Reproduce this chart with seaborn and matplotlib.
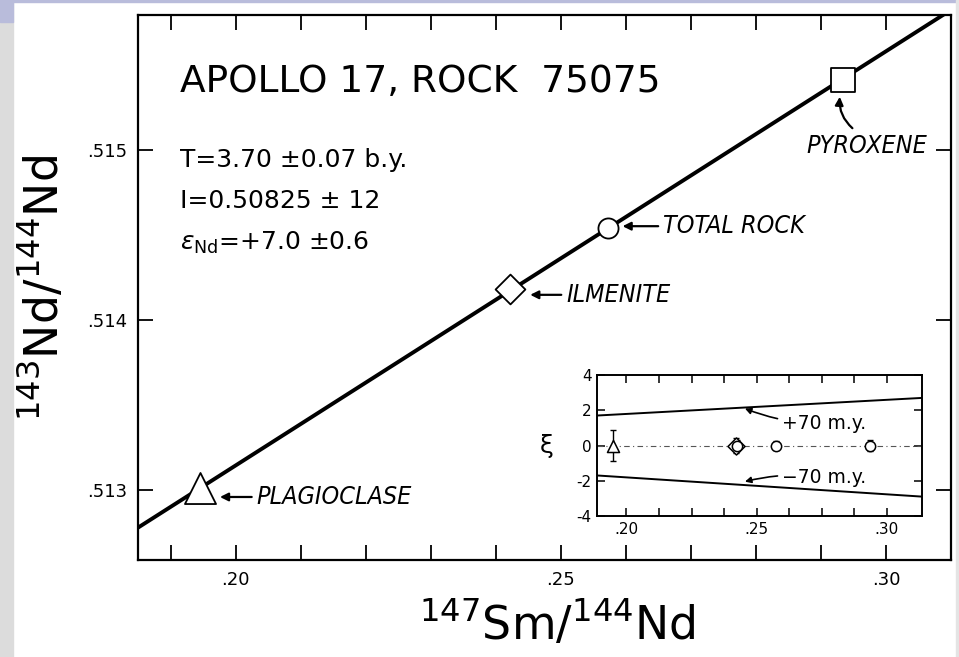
import matplotlib
matplotlib.use('Agg')
import matplotlib.pyplot as plt
import matplotlib.patches as mpatches
from matplotlib.ticker import MultipleLocator, FixedLocator, FuncFormatter
import seaborn as sns
import pandas as pd

# isochron
iso_x = [0.185, 0.31]
iso_y = [0.51278, 0.51582]

minerals = ['PLAGIOCLASE', 'ILMENITE', 'TOTAL ROCK', 'PYROXENE']
sm_nd = [0.1945, 0.2422, 0.2572, 0.2934]
nd_nd = [0.51301, 0.51418, 0.51454, 0.51541]
marker_shapes = ['^', 'D', 'o', 's']
marker_areas = [500, 230, 210, 275]

# inset: deviation xi with +-70 m.y. reference lines
dev_x = [0.195, 0.2420, 0.2425, 0.2573, 0.2936]
dev_y = [0.0, 0.0, 0.0, 0.0, 0.0]
dev_err = [0.9, 0.4, 0.3, 0.25, 0.3]
dev_marker = ['^', 'D', 'o', 'o', 'o']
plus70_x = [0.1887, 0.3135]
plus70_y = [1.7, 2.7]
minus70_x = [0.1887, 0.3135]
minus70_y = [-1.7, -2.9]

sns.set_style('ticks')
plt.rcParams['font.family'] = ['DejaVu Sans']
plt.rcParams['mathtext.fontset'] = 'dejavusans'
plt.rcParams['axes.unicode_minus'] = False
for k in ['text.color', 'axes.labelcolor', 'xtick.color', 'ytick.color', 'axes.edgecolor']:
    plt.rcParams[k] = 'black'

fig = plt.figure(figsize=(9.59, 6.57), dpi=100)
fig.patch.set_facecolor('white')

# scanned page margins
fig.patches.append(mpatches.Rectangle((0, 0), 13 / 959, 1, transform=fig.transFigure,
                                      color='#dcdcdc', zorder=0))
fig.patches.append(mpatches.Rectangle((0, 1 - 22 / 657), 13 / 959, 22 / 657, transform=fig.transFigure,
                                      color='#b9bcdb', zorder=0))
fig.patches.append(mpatches.Rectangle((0, 1 - 2 / 657), 1, 2 / 657, transform=fig.transFigure,
                                      color='#b9bcdb', zorder=0))
fig.patches.append(mpatches.Rectangle((956 / 959, 0), 3 / 959, 1, transform=fig.transFigure,
                                      color='#e4e4e4', zorder=0))

ax = fig.add_axes([138 / 959, 97 / 657, 813 / 959, 545 / 657])
ax.set_facecolor('white')

sns.lineplot(x=iso_x, y=iso_y, ax=ax, color='black', lw=2.8, zorder=2)

df = pd.DataFrame({'x': sm_nd, 'y': nd_nd, 'mineral': minerals})
for i, row in df.iterrows():
    sns.scatterplot(x=[row.x], y=[row.y], ax=ax, marker=marker_shapes[i], s=marker_areas[i],
                    color='white', edgecolor='black', linewidth=1.3, zorder=3)

ax.set_xlim(0.185, 0.31)
ax.set_ylim(0.51259, 0.51579)
ax.xaxis.set_major_locator(FixedLocator([0.20, 0.25, 0.30]))
ax.xaxis.set_minor_locator(MultipleLocator(0.01))
ax.yaxis.set_major_locator(FixedLocator([0.513, 0.514, 0.515]))
ax.xaxis.set_major_formatter(FuncFormatter(lambda v, p: ('%.2f' % v)[1:]))
ax.yaxis.set_major_formatter(FuncFormatter(lambda v, p: ('%.3f' % v)[1:]))
ax.tick_params(which='both', direction='in', length=11, width=1.3, top=True, right=True,
               labelsize=13, pad=8)
for s in ax.spines.values():
    s.set_linewidth(1.6)
    s.set_visible(True)

ax.set_xlabel(r'$^{147}$Sm/$^{144}$Nd', fontsize=33)
ax.set_ylabel(r'$^{143}$Nd/$^{144}$Nd', fontsize=33)
ax.xaxis.set_label_coords(0.516, -0.12)
ax.xaxis.label.set_va('center')
ax.yaxis.set_label_coords(-0.117, 0.5)
ax.yaxis.label.set_va('center')

ax.text(0.052, 0.877, 'APOLLO 17, ROCK  75075', transform=ax.transAxes, fontsize=27, va='center')
ax.text(0.052, 0.734, 'T=3.70 ±0.07 b.y.', transform=ax.transAxes, fontsize=18, va='center')
ax.text(0.052, 0.659, 'I=0.50825 ± 12', transform=ax.transAxes, fontsize=18, va='center')
ax.text(0.052, 0.582, r'$\epsilon_{\mathrm{Nd}}$=+7.0 ±0.6', transform=ax.transAxes,
        fontsize=18, va='center')

lab_kw = dict(fontsize=18, style='italic', va='center', ha='left', fontstretch='condensed',
              family=['DejaVu Sans'])
arrow = dict(arrowstyle='-|>', lw=1.6, color='black', mutation_scale=12, shrinkA=1, shrinkB=0)
ax.annotate('PLAGIOCLASE', xy=(0.1976, 0.51296), xytext=(0.2032, 0.51296), arrowprops=arrow, **lab_kw)
ax.annotate('ILMENITE', xy=(0.2453, 0.514147), xytext=(0.2508, 0.514147), arrowprops=arrow, **lab_kw)
ax.annotate('TOTAL ROCK', xy=(0.2595, 0.51455), xytext=(0.2657, 0.51455), arrowprops=arrow, **lab_kw)
ax.text(0.2877, 0.515023, 'PYROXENE', **lab_kw)
ax.annotate('', xy=(0.2929, 0.51531), xytext=(0.2950, 0.51512),
            arrowprops=dict(arrow, connectionstyle='arc3,rad=-0.25'))

# inset
ins = fig.add_axes([597 / 959, 141 / 657, 325 / 959, 141 / 657])
ins.set_facecolor('white')
ins.axhline(0, color='#555555', lw=0.8, ls=(0, (5, 3, 1, 3)), zorder=1)
sns.lineplot(x=plus70_x, y=plus70_y, ax=ins, color='black', lw=1.4)
sns.lineplot(x=minus70_x, y=minus70_y, ax=ins, color='black', lw=1.4)
for xv, yv, ev, mk in zip(dev_x, dev_y, dev_err, dev_marker):
    ins.errorbar(xv, yv, yerr=ev, fmt='none', ecolor='black', elinewidth=1.0, capsize=2.5, zorder=2)
    sns.scatterplot(x=[xv], y=[yv], ax=ins, marker=mk, s=75 if mk != 'o' else 55,
                    color='white', edgecolor='black', linewidth=1.1, zorder=3)
ins.set_xlim(0.1887, 0.3135)
ins.set_ylim(-4, 4)
ins.xaxis.set_major_locator(FixedLocator([0.20, 0.25, 0.30]))
ins.xaxis.set_minor_locator(FixedLocator([0.2125, 0.225, 0.2375, 0.2625, 0.275, 0.2875]))
ins.xaxis.set_major_formatter(FuncFormatter(lambda v, p: ('%.2f' % v)[1:]))
ins.yaxis.set_major_locator(FixedLocator([-4, -2, 0, 2, 4]))
ins.tick_params(which='both', direction='in', length=6, width=1.1, top=True, right=True,
                labelsize=11, pad=4)
for s in ins.spines.values():
    s.set_linewidth(1.4)
    s.set_visible(True)
ins.set_ylabel('ξ', fontsize=18, rotation=0, va='center')
ins.yaxis.set_label_coords(-0.155, 0.5)

small_arrow = dict(arrowstyle='-|>', lw=1.2, color='black', mutation_scale=9, shrinkA=1, shrinkB=0,
                   connectionstyle='arc3,rad=-0.1')
ins.annotate('+70 m.y.', xy=(0.2455, 2.1), xytext=(0.2598, 1.25), fontsize=13.5, va='center',
             arrowprops=small_arrow)
ins.annotate('−70 m.y.', xy=(0.2455, -2.05), xytext=(0.2598, -1.8), fontsize=13.5, va='center',
             arrowprops=dict(small_arrow, connectionstyle='arc3,rad=0.1'))

fig.savefig('out.png', dpi=100, facecolor=fig.get_facecolor())
